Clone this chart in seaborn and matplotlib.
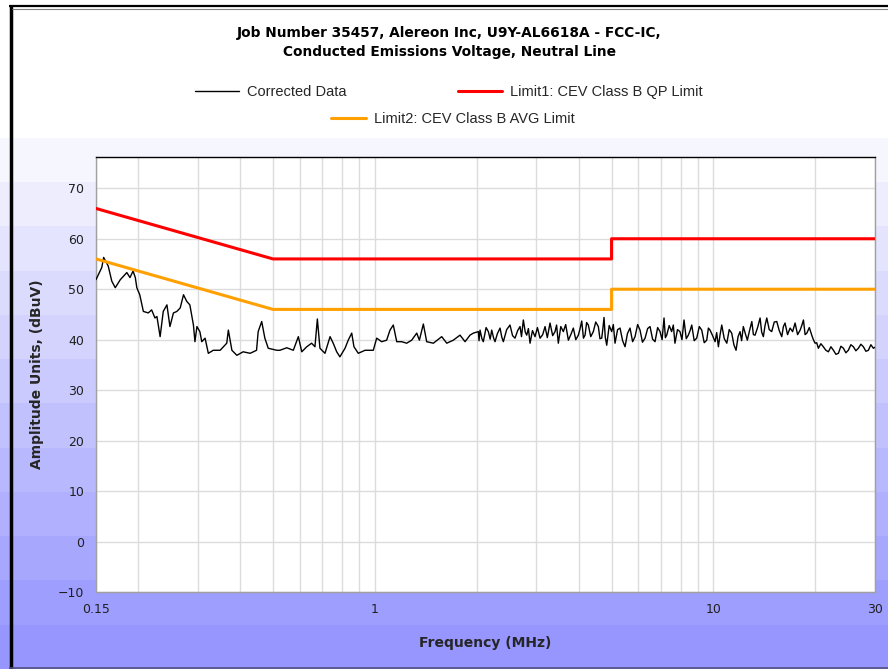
import numpy as np
import matplotlib
matplotlib.use('Agg')
import matplotlib.pyplot as plt
import seaborn as sns
from matplotlib.lines import Line2D
from matplotlib.ticker import FixedLocator, NullFormatter

# corrected data (MHz, dBuV)
freq = [0.150, 0.156, 0.158, 0.163, 0.167, 0.171, 0.177, 0.185, 0.189, 0.193,
        0.196, 0.198, 0.202, 0.207, 0.214, 0.219, 0.224, 0.227, 0.232, 0.237,
        0.243, 0.248, 0.254, 0.260, 0.266, 0.272, 0.278, 0.284, 0.291, 0.294,
        0.298, 0.304, 0.308, 0.315, 0.322, 0.333, 0.349, 0.365, 0.369, 0.378,
        0.391, 0.408, 0.428, 0.447, 0.452, 0.463, 0.473, 0.484, 0.513, 0.524,
        0.549, 0.574, 0.594, 0.608, 0.629, 0.650, 0.665, 0.676, 0.688, 0.712,
        0.737, 0.753, 0.771, 0.788, 0.816, 0.834, 0.854, 0.867, 0.893, 0.935,
        0.989, 1.012, 1.047, 1.083, 1.108, 1.133, 1.160, 1.200, 1.241, 1.284,
        1.329, 1.353, 1.390, 1.422, 1.488, 1.575, 1.630, 1.704, 1.784, 1.846,
        1.909, 1.953, 2.021, 2.03, 2.044, 2.07, 2.090, 2.13, 2.163, 2.19,
        2.213, 2.24, 2.263, 2.30, 2.342, 2.37, 2.395, 2.45, 2.506, 2.55,
        2.593, 2.64, 2.683, 2.71, 2.744, 2.78, 2.808, 2.84, 2.872, 2.92,
        2.971, 3.02, 3.074, 3.13, 3.181, 3.23, 3.290, 3.35, 3.404, 3.44,
        3.481, 3.54, 3.602, 3.66, 3.727, 3.79, 3.855, 3.92, 3.989, 4.03,
        4.082, 4.13, 4.175, 4.22, 4.269, 4.34, 4.417, 4.49, 4.570, 4.62,
        4.676, 4.71, 4.750, 4.79, 4.838, 4.92, 5.005, 5.06, 5.119, 5.21,
        5.297, 5.39, 5.480, 5.57, 5.669, 5.77, 5.866, 5.97, 6.068, 6.17,
        6.280, 6.39, 6.495, 6.61, 6.720, 6.84, 6.953, 7.05, 7.144, 7.21,
        7.276, 7.40, 7.524, 7.61, 7.695, 7.83, 7.962, 8.07, 8.185, 8.31,
        8.428, 8.53, 8.626, 8.77, 8.923, 9.08, 9.233, 9.39, 9.552, 9.66,
        9.768, 9.94, 10.11, 10.22, 10.34, 10.46, 10.58, 10.76, 10.95, 11.13,
        11.32, 11.49, 11.66, 11.82, 11.98, 12.11, 12.25, 12.42, 12.59, 12.78,
        12.98, 13.12, 13.27, 13.50, 13.73, 13.88, 14.04, 14.20, 14.37, 14.61,
        14.86, 15.12, 15.38, 15.64, 15.91, 16.09, 16.27, 16.55, 16.84, 17.13,
        17.42, 17.72, 18.03, 18.23, 18.44, 18.65, 18.87, 19.19, 19.51, 19.73,
        19.96, 20.18, 20.41, 20.76, 21.11, 21.48, 21.85, 22.23, 22.61, 23.00,
        23.39, 23.79, 24.20, 24.61, 25.02, 25.46, 25.90, 26.34, 26.79, 27.25,
        27.72, 28.20, 28.68, 29.17, 29.67, 30.0]
level = [51.9, 54.3, 56.3, 54.6, 51.6, 50.3, 51.9, 53.3, 52.3, 53.6,
         52.3, 50.3, 48.9, 45.6, 45.3, 45.9, 44.3, 44.6, 40.6, 45.6,
         46.9, 42.6, 45.3, 45.6, 46.3, 48.9, 47.6, 46.9, 42.9, 39.6,
         42.6, 41.6, 39.6, 40.3, 37.3, 37.9, 37.9, 39.3, 41.9, 37.9,
         36.9, 37.6, 37.3, 37.9, 41.6, 43.6, 40.3, 38.3, 37.9, 37.9,
         38.4, 37.9, 40.6, 37.6, 38.6, 39.3, 38.6, 44.1, 38.3, 37.3,
         40.6, 39.3, 37.6, 36.6, 38.3, 39.9, 41.3, 38.6, 37.3, 37.9,
         37.9, 40.3, 39.6, 39.9, 41.9, 42.9, 39.6, 39.6, 39.3, 39.9,
         41.3, 39.9, 43.1, 39.6, 39.3, 40.6, 39.3, 39.9, 40.9, 39.6,
         40.9, 41.3, 41.6, 39.8, 41.9, 40.2, 39.6, 42.4, 41.6, 40.1,
         41.9, 40.4, 39.6, 41.2, 42.3, 40.5, 39.6, 42.0, 42.9, 40.8,
         40.3, 41.8, 42.6, 40.6, 43.9, 41.5, 40.9, 42.2, 39.3, 41.8,
         40.6, 42.4, 40.3, 41.0, 42.6, 40.4, 43.3, 40.8, 41.6, 42.9,
         39.3, 42.6, 41.6, 43.0, 39.9, 41.0, 42.3, 40.0, 40.9, 42.0,
         43.7, 40.3, 40.9, 43.4, 42.9, 40.6, 41.6, 43.5, 42.6, 40.2,
         40.3, 42.0, 44.4, 40.5, 38.9, 42.8, 41.6, 43.0, 39.3, 42.0,
         42.3, 39.8, 38.6, 41.2, 42.3, 39.6, 40.6, 43.0, 41.9, 39.5,
         40.3, 42.2, 42.6, 40.1, 39.6, 42.4, 41.6, 40.0, 44.3, 40.4,
         40.9, 42.8, 41.6, 42.9, 39.3, 42.0, 41.6, 40.0, 43.9, 40.2,
         40.9, 41.8, 42.9, 39.8, 40.3, 42.6, 41.9, 39.4, 39.9, 42.3,
         41.9, 40.8, 39.6, 41.4, 38.6, 41.0, 42.9, 40.2, 39.3, 42.0,
         41.3, 39.0, 37.9, 40.6, 41.6, 39.8, 42.6, 41.2, 39.9, 41.8,
         43.6, 41.0, 40.9, 42.4, 44.3, 41.5, 40.6, 42.8, 44.3, 42.0,
         41.6, 43.5, 43.6, 41.8, 40.6, 42.6, 43.3, 41.0, 42.3, 41.6,
         43.3, 41.0, 41.9, 42.8, 43.9, 41.0, 41.3, 42.4, 40.9, 40.0,
         39.3, 39.4, 38.3, 39.2, 38.6, 37.9, 37.6, 38.6, 37.9, 37.1,
         37.3, 38.7, 38.3, 37.4, 37.9, 39.0, 38.6, 37.8, 38.3, 39.1,
         38.6, 37.7, 37.9, 39.0, 38.3, 38.5]

# limit lines
qp_freq = [0.15, 0.5, 5.0, 5.0, 30.0]
qp_level = [66, 56, 56, 60, 60]
avg_freq = [0.15, 0.5, 5.0, 5.0, 30.0]
avg_level = [56, 46, 46, 50, 50]

yticks = [-10, 0, 10, 20, 30, 40, 50, 60, 70]
xticks = [0.15, 1, 10, 30]
xticklabels = ['0.15', '1', '10', '30']

sns.set_style('white')
plt.rcParams['font.family'] = ['DejaVu Sans']

fig = plt.figure(figsize=(8.88, 6.69), dpi=100)
fig.patch.set_facecolor('white')

# banded gradient background below the legend
bg = fig.add_axes([0, 0, 1, 1 - 138 / 669], zorder=-10)
nb = 12
t = np.linspace(0, 1, nb)[::-1].reshape(-1, 1)
top = np.array([246, 246, 254]) / 255
bot = np.array([150, 150, 254]) / 255
grad = top * t[..., None] + bot * (1 - t[..., None])
bg.imshow(grad, aspect='auto', extent=[0, 1, 0, 1])
bg.set_axis_off()

ax = fig.add_axes([96 / 888, 1 - 592 / 669, 779 / 888, 435 / 669])
ax.set_facecolor('white')

sns.lineplot(x=freq, y=level, ax=ax, color='black', lw=1.0, sort=False,
             estimator=None, zorder=3)
sns.lineplot(x=qp_freq, y=qp_level, ax=ax, color='#FF0000', lw=2.2,
             sort=False, estimator=None, zorder=4)
sns.lineplot(x=avg_freq, y=avg_level, ax=ax, color='#FFA000', lw=2.2,
             sort=False, estimator=None, zorder=4)

ax.set_xscale('log')
ax.set_xlim(0.15, 30)
ax.set_ylim(-10, 76.2)

minor = [0.2, 0.3, 0.4, 0.5, 0.6, 0.7, 0.8, 0.9, 2, 3, 4, 5, 6, 7, 8, 9, 20]
ax.xaxis.set_major_locator(FixedLocator(xticks))
ax.xaxis.set_minor_locator(FixedLocator(minor))
ax.xaxis.set_minor_formatter(NullFormatter())
ax.set_xticklabels(xticklabels)
ax.set_yticks(yticks)
ax.grid(True, which='both', axis='x', color='#DCDCDC', lw=1.0)
ax.grid(True, which='major', axis='y', color='#DCDCDC', lw=1.0)
ax.set_axisbelow(True)

for s in ['left', 'right', 'bottom']:
    ax.spines[s].set_color('#A0A0A0')
    ax.spines[s].set_linewidth(1.0)
ax.spines['top'].set_color('black')
ax.spines['top'].set_linewidth(1.0)

ax.tick_params(axis='both', which='major', direction='out', length=5,
               width=1, color='#808080', labelsize=9, labelcolor='#202020')
ax.tick_params(axis='x', which='minor', length=0)
ax.tick_params(axis='x', pad=3)

ax.set_xlabel('Frequency (MHz)', fontsize=10, fontweight='bold', labelpad=14)
ax.set_ylabel('Amplitude Units, (dBuV)', fontsize=10, fontweight='bold',
              labelpad=10)

fig.text(0.5057, 1 - 33 / 669, 'Job Number 35457, Alereon Inc, U9Y-AL6618A - FCC-IC,',
         ha='center', va='center', fontsize=9.9, fontweight='bold', color='black')
fig.text(0.5057, 1 - 52 / 669, 'Conducted Emissions Voltage, Neutral Line',
         ha='center', va='center', fontsize=9.9, fontweight='bold', color='black')

h1 = [Line2D([], [], color='black', lw=1.0),
      Line2D([], [], color='#FF0000', lw=2.2)]
leg1 = fig.legend(h1, ['Corrected Data', 'Limit1: CEV Class B QP Limit'],
                  loc='center', bbox_to_anchor=(0.5056, 1 - 92 / 669), ncol=2,
                  frameon=False, handlelength=3.0, handletextpad=0.6,
                  columnspacing=7.6,
                  prop={'family': 'Liberation Sans', 'size': 10.5})
h2 = [Line2D([], [], color='#FFA000', lw=2.2)]
leg2 = fig.legend(h2, ['Limit2: CEV Class B AVG Limit'], loc='center',
                  bbox_to_anchor=(0.510, 1 - 119 / 669), frameon=False,
                  handlelength=2.4, handletextpad=0.6,
                  prop={'family': 'Liberation Sans', 'size': 10.5})

# outer frame
fr = fig.add_axes([0, 0, 1, 1], zorder=20)
fr.set_axis_off()
fr.set_xlim(0, 888)
fr.set_ylim(669, 0)
fr.plot([10.5, 10.5], [5, 669], color='black', lw=2.5, solid_capstyle='butt')
fr.plot([9, 888], [5.5, 5.5], color='black', lw=1.6, solid_capstyle='butt')
fr.plot([12, 888], [8.5, 8.5], color='#808080', lw=0.8, solid_capstyle='butt')
fr.plot([9, 888], [668, 668], color='#505080', lw=1.2, solid_capstyle='butt')

fig.savefig('out.png', dpi=100)
